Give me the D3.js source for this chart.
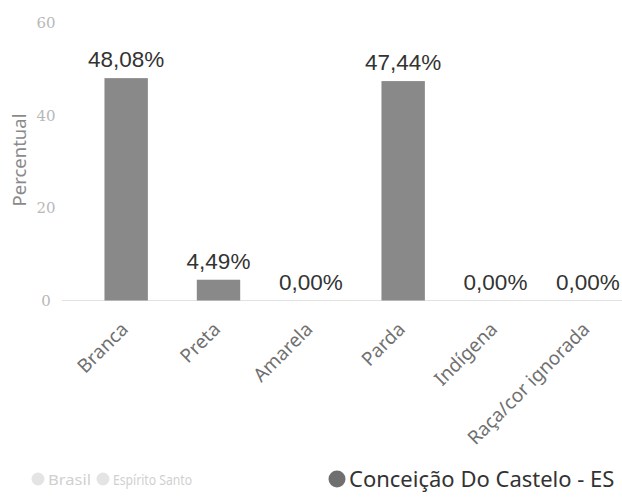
<!DOCTYPE html>
<html><head><meta charset="utf-8">
<script src="https://cdn.jsdelivr.net/npm/d3@7"></script>
<style>body{margin:0;background:#fff;} svg{display:block;}</style>
</head><body>
<script>
const categories = ["Branca","Preta","Amarela","Parda","Indígena","Raça/cor ignorada"];
const values = [48.08, 4.49, 0.00, 47.44, 0.00, 0.00];
const valueLabels = ["48,08%","4,49%","0,00%","47,44%","0,00%","0,00%"];
const yTicks = [0,20,40,60];
const legendItems = ["Brasil","Espírito Santo","Conceição Do Castelo - ES"];

const W=622,H=503;
const svg=d3.select("body").append("svg").attr("width",W).attr("height",H);
const x=d3.scaleBand().domain(categories).range([80,634]).paddingInner(0.53).paddingOuter(0.265);
const y=d3.scaleLinear().domain([0,60]).range([300.5,23]);

// baseline
svg.append("line").attr("x1",62).attr("x2",622).attr("y1",y(0)).attr("y2",y(0))
  .attr("stroke","#e2e2e2").attr("stroke-width",1.2);

// y axis
const ya=svg.append("g").attr("transform","translate(46,0)")
  .call(d3.axisLeft(y).tickValues(yTicks).tickSize(0).tickPadding(0));
ya.select(".domain").remove();
ya.selectAll("text").attr("text-anchor","middle").attr("font-family","DejaVu Serif, serif")
  .attr("font-size",15).attr("fill","#b8b8b8");

svg.append("text").attr("transform","translate(26,160) rotate(-90)").attr("text-anchor","middle")
  .attr("font-family","Noto Sans, sans-serif").attr("font-size",18.5).attr("fill","#8a8a8a").text("Percentual");

// bars
svg.append("g").selectAll("rect").data(values).join("rect")
  .attr("x",(d,i)=>x(categories[i])).attr("width",x.bandwidth())
  .attr("y",d=>y(d)).attr("height",d=>y(0)-y(d)).attr("fill","#898989");

// value labels
svg.append("g").selectAll("text").data(values).join("text")
  .attr("x",(d,i)=>x(categories[i])+x.bandwidth()/2).attr("y",d=>y(d)-11)
  .attr("text-anchor","middle").attr("font-family","Liberation Sans, Arial, sans-serif")
  .attr("font-size",22.5).attr("fill","#333").text((d,i)=>valueLabels[i]);

// x axis labels
const xa=svg.append("g").attr("transform",`translate(0,${y(0)})`)
  .call(d3.axisBottom(x).tickSize(0).tickPadding(0));
xa.select(".domain").remove();
xa.selectAll("text").attr("text-anchor","end").attr("dy",0)
  .attr("transform","translate(3,30) rotate(-45)")
  .attr("font-family","Noto Sans, sans-serif").attr("font-size",19).attr("fill","#707070");

// legend
const lg=svg.append("g");
const lx=[38,103,337], tx=[48,113,349], tl=[43,79,null];
legendItems.forEach((t,i)=>{
  const active=i===2;
  lg.append("circle").attr("cx",lx[i]).attr("cy",479).attr("r",active?8.5:6.5)
    .attr("fill",active?"#6f6f6f":"#e4e4e4");
  const tt=lg.append("text").attr("x",tx[i]).attr("y",active?486.5:485).attr("font-family","Noto Sans, sans-serif")
    .attr("font-size",active?22:15).attr("fill",active?"#333":"#d0d0d0").text(t);
  if(tl[i]) tt.attr("textLength",tl[i]).attr("lengthAdjust","spacingAndGlyphs");
});
</script>
</body></html>
